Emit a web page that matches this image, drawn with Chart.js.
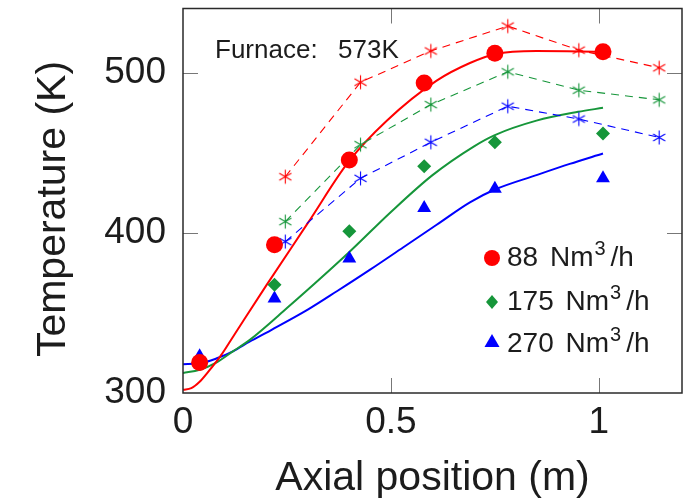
<!DOCTYPE html>
<html>
<head>
<meta charset="utf-8">
<script src="https://cdn.jsdelivr.net/npm/chart.js@4.4.1/dist/chart.umd.min.js"></script>
<style>
  html, body { margin: 0; padding: 0; background: #fff; }
  #wrap { width: 697px; height: 500px; }
</style>
</head>
<body>
<div id="wrap"><canvas id="chart" width="697" height="500"></canvas></div>
<script>
"use strict";
/* Axial temperature profiles, furnace at 573 K.
   Markers = measurements, solid = model, dashed stars = second data set. */

// measured (filled markers)
const expX = [0.04, 0.22, 0.40, 0.58, 0.75, 1.01];
const exp88 = [319, 392.5, 445.5, 493.5, 512, 513];
const exp175 = [318.5, 367.5, 401, 441.5, 456.5, 462];
const exp270 = [323, 359, 384, 415.5, 427.5, 434];

// dashed star series
const starX = [0.246, 0.427, 0.596, 0.781, 0.952, 1.145];
const star88 = [435, 494, 513.5, 529, 514, 503];
const star175 = [407, 455, 480, 500.5, 489, 483];
const star270 = [394.5, 434, 456.5, 479, 471, 459.5];

// solid model curves
const model88X = [0, 0.02, 0.04, 0.06, 0.09, 0.12, 0.2, 0.3, 0.4, 0.49, 0.61, 0.69, 0.75, 0.85, 1.01];
const model88 = [302, 303, 307, 313, 323, 335, 367, 406, 445, 470, 495, 506, 511.5, 513.5, 513];
const model175X = [0, 0.04, 0.08, 0.12, 0.16, 0.25, 0.4, 0.5, 0.6, 0.7, 0.75, 0.85, 0.95, 1.01];
const model175 = [312.5, 314.5, 319, 326, 333, 353, 388, 413, 436, 454, 461, 470, 475.5, 478];
const model270X = [0, 0.04, 0.08, 0.12, 0.16, 0.21, 0.3, 0.37, 0.45, 0.53, 0.61, 0.69, 0.75, 0.85, 0.93, 1.01];
const model270 = [318, 318.5, 321.5, 326, 332, 339, 352, 363.5, 377, 391, 405, 419, 427, 436, 443, 449.5];

const xTicks = [0, 0.5, 1];
const xTickLabels = ["0", "0.5", "1"];
const yTicks = [300, 400, 500];
const yTickLabels = ["300", "400", "500"];

const seriesNames = ["88", "175", "270"];
const xTitle = "Axial position (m)";
const yTitle = "Temperature (K)";
const noteLeft = "Furnace:", noteRight = "573K";

const FONT = "'Liberation Sans', Arial, sans-serif";
const RED = "#ff0000", GREEN = "#16963a", BLUE = "#0000ff";
const INK = "#1c1c1c";

const pts = (xs, ys) => xs.map((x, i) => ({ x, y: ys[i] }));

// six-armed asterisk, used as a point style
function asterisk(color) {
  const c = document.createElement("canvas"); c.width = c.height = 17;
  const g = c.getContext("2d"), r = 7;
  g.strokeStyle = color; g.lineWidth = 1.1; g.beginPath();
  for (const deg of [90, 30, -30]) {
    const a = deg * Math.PI / 180, dx = Math.cos(a) * r, dy = Math.sin(a) * r;
    g.moveTo(8.5 - dx, 8.5 + dy); g.lineTo(8.5 + dx, 8.5 - dy);
  }
  g.stroke();
  return c;
}

function markers(data, color, style, r) {
  return { data, showLine: false, pointStyle: style, pointRadius: r,
    backgroundColor: color, borderColor: color, pointBorderWidth: 0 };
}
function curve(data, color) {
  return { data, showLine: true, borderColor: color, borderWidth: 2, pointRadius: 0,
    cubicInterpolationMode: "monotone", fill: false };
}
function stars(data, color) {
  return { data, showLine: true, borderColor: color, borderWidth: 1.1, borderDash: [8, 6],
    tension: 0, pointStyle: asterisk(color), pointRadius: 7, fill: false };
}
// keep the plot box exactly where the axes say, no room for overhanging labels
function noOverhang(s) { s.paddingTop = s.paddingBottom = s.paddingLeft = s.paddingRight = 0; }

/* ---------------- frame, inner ticks, text ---------------- */
function shape(ctx, kind, x, y, color) {
  ctx.fillStyle = color;
  ctx.beginPath();
  if (kind === "circle") ctx.arc(x, y, 8, 0, Math.PI * 2);
  else if (kind === "diamond") { ctx.moveTo(x, y - 7); ctx.lineTo(x + 6, y); ctx.lineTo(x, y + 7); ctx.lineTo(x - 6, y); }
  else { ctx.moveTo(x, y - 8); ctx.lineTo(x + 7.5, y + 5); ctx.lineTo(x - 7.5, y + 5); }
  ctx.closePath(); ctx.fill();
}

const decor = {
  id: "decor",
  beforeDatasetsDraw(chart) {
    const { ctx, chartArea: a, scales } = chart;
    ctx.save();
    ctx.strokeStyle = "#777"; ctx.lineWidth = 1;
    ctx.beginPath();
    for (const v of xTicks) {
      const px = Math.round(scales.x.getPixelForValue(v)) + 0.5;
      if (px <= a.left + 1 || px >= a.right - 1) continue;
      ctx.moveTo(px, a.bottom); ctx.lineTo(px, a.bottom - 15);
      ctx.moveTo(px, a.top); ctx.lineTo(px, a.top + 15);
    }
    for (const v of yTicks) {
      const py = Math.round(scales.y.getPixelForValue(v)) + 0.5;
      if (py >= a.bottom - 1 || py <= a.top + 1) continue;
      ctx.moveTo(a.left, py); ctx.lineTo(a.left + 15, py);
      ctx.moveTo(a.right, py); ctx.lineTo(a.right - 15, py);
    }
    ctx.stroke();
    ctx.restore();
  },
  afterDraw(chart) {
    const { ctx, chartArea: a } = chart;
    ctx.save();
    ctx.strokeStyle = "#2a2a2a"; ctx.lineWidth = 1.5;
    ctx.strokeRect(a.left, a.top, a.right - a.left, a.bottom - a.top);

    ctx.fillStyle = INK;
    ctx.textBaseline = "alphabetic";
    // axis titles
    ctx.font = "41px " + FONT; ctx.textAlign = "center";
    ctx.fillText(xTitle, (a.left + a.right) / 2, 490);
    ctx.save();
    ctx.translate(65, 209); ctx.rotate(-Math.PI / 2);
    ctx.fillText(yTitle, 0, 0);
    ctx.restore();

    // furnace note
    ctx.font = "26px " + FONT; ctx.textAlign = "left";
    ctx.fillText(noteLeft, 215, 58);
    ctx.fillText(noteRight, 338, 58);

    // legend (markers only)
    const kinds = ["circle", "diamond", "triangle"], cols = [RED, GREEN, BLUE];
    const rows = [{ my: 258, by: 266 }, { my: 302, by: 310 }, { my: 342, by: 352 }];
    rows.forEach((r, i) => {
      shape(ctx, kinds[i], 492, r.my, cols[i]);
      ctx.fillStyle = INK;
      let x = 507;
      ctx.font = "28px " + FONT;
      const head = seriesNames[i] + " ";
      ctx.fillText(head, x, r.by); x += ctx.measureText(head).width + 4;
      ctx.fillText("Nm", x, r.by); x += ctx.measureText("Nm").width + 1;
      ctx.font = "20px " + FONT;
      ctx.fillText("3", x, r.by - 11); x += ctx.measureText("3").width + 5;
      ctx.font = "28px " + FONT;
      ctx.fillText("/h", x, r.by);
    });
    ctx.restore();
  },
};

/* ---------------- chart ---------------- */
Chart.defaults.font.family = FONT;
new Chart(document.getElementById("chart"), {
  type: "scatter",
  data: {
    datasets: [
      markers(pts(expX, exp88), RED, "circle", 8.5),
      markers(pts(expX, exp175), GREEN, "rectRot", 7),
      markers(pts(expX, exp270), BLUE, "triangle", 8),
      stars(pts(starX, star88), RED),
      stars(pts(starX, star175), GREEN),
      stars(pts(starX, star270), BLUE),
      curve(pts(model88X, model88), RED),
      curve(pts(model175X, model175), GREEN),
      curve(pts(model270X, model270), BLUE),
    ],
  },
  options: {
    responsive: false, animation: false, events: [], devicePixelRatio: 1,
    layout: { padding: { top: 7, right: 15, left: 0, bottom: 0 } },
    plugins: { legend: { display: false }, tooltip: { enabled: false } },
    scales: {
      x: {
        type: "linear", min: 0, max: 1.2,
        afterBuildTicks: (s) => { s.ticks = xTicks.map((v) => ({ value: v })); },
        afterFit: (s) => { s.height = 107; noOverhang(s); },
        grid: { display: false, drawTicks: false }, border: { display: false },
        ticks: { color: INK, padding: 8, font: { size: 37 }, maxRotation: 0,
          callback: (v, i) => xTickLabels[i] },
      },
      y: {
        type: "linear", min: 300, max: 540,
        afterBuildTicks: (s) => { s.ticks = yTicks.map((v) => ({ value: v })); },
        afterFit: (s) => { s.width = 183; noOverhang(s); },
        grid: { display: false, drawTicks: false }, border: { display: false },
        ticks: { color: INK, padding: 17, font: { size: 37 },
          callback: (v, i) => yTickLabels[i] },
      },
    },
  },
  plugins: [decor],
});
</script>
</body>
</html>
